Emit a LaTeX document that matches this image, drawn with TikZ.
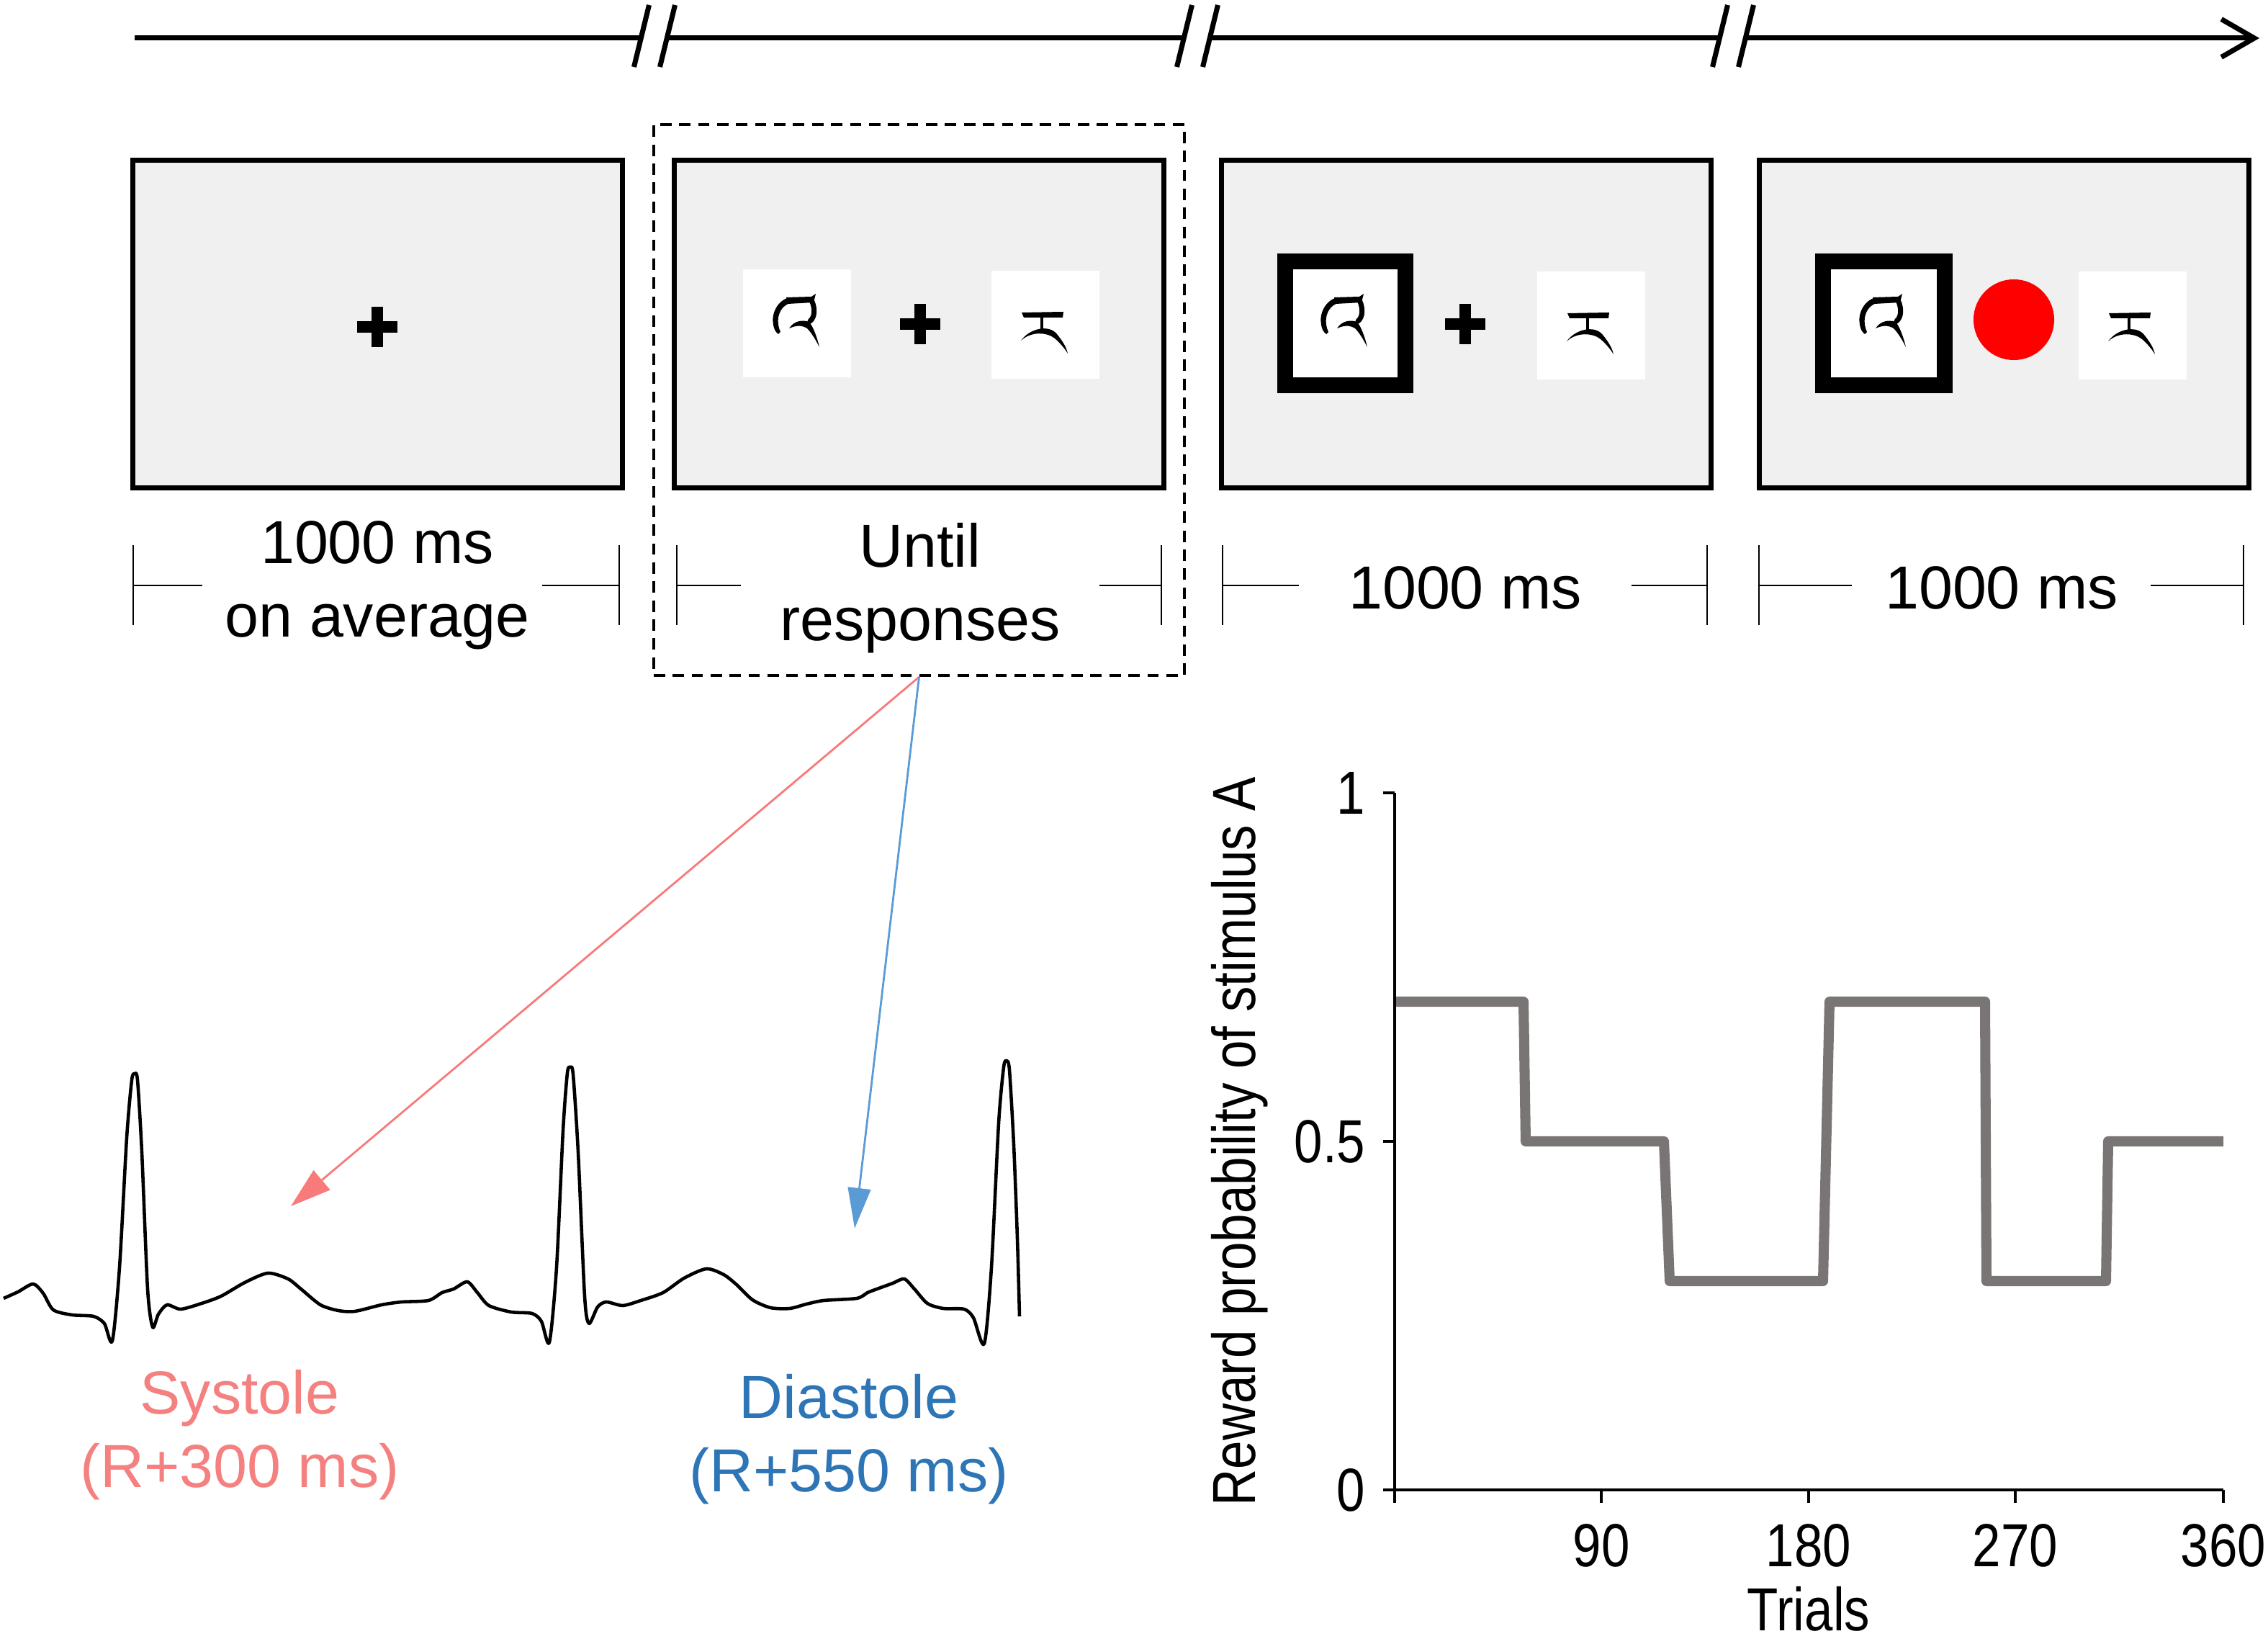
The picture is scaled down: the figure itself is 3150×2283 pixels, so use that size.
\documentclass[tikz,border=0pt]{standalone}
\usepackage{fontspec}
\setmainfont{Liberation Sans}
\newfontfamily\narrowfont[FakeStretch=0.84]{Liberation Sans}
\usetikzlibrary{arrows.meta}
\definecolor{screenfill}{RGB}{240,240,240}
\definecolor{sysred}{RGB}{248,122,122}
\definecolor{systxt}{RGB}{244,128,128}
\definecolor{diablue}{RGB}{91,155,213}
\definecolor{diatxt}{RGB}{46,117,182}
\definecolor{stepgray}{RGB}{122,117,117}
\tikzset{
  screen/.style={draw=black, line width=2pt, fill=screenfill, minimum width=6.8cm, minimum height=4.54cm, inner sep=0pt},
  dashbox/.style={draw=black, dash pattern=on 4.5pt off 3pt, line width=1.1pt, minimum width=7.37cm, minimum height=7.65cm, inner sep=0pt},
  tline/.style={line width=2pt},
  durline/.style={line width=0.7pt},
  durtext/.style={align=center, inner sep=0pt, font=\fontsize{24}{29}\selectfont},
  redarrow/.style={draw=sysred, line width=0.8pt, -{Triangle[length=16pt,width=10pt]}},
  bluearrow/.style={draw=diablue, line width=0.8pt, -{Triangle[length=16pt,width=9pt]}},
  ecg/.style={line width=1.3pt, line join=round},
  axisline/.style={line width=1.1pt},
  stepline/.style={draw=stepgray, line width=4pt, line join=round},
  plotlab/.style={inner sep=0pt, font=\narrowfont\fontsize{24}{29}\selectfont},
  whitesq/.style={fill=white, draw=none, minimum width=1.5cm, minimum height=1.5cm, inner sep=0pt},
  fixcross/.pic={\fill (-28,-8) rectangle (28,8); \fill (-8,-28) rectangle (8,28);},
  tibA/.pic={
    % top bar
    \fill (-15,-36) -- (20,-37) -- (26,-41) -- (23,-29) -- (-13,-27) -- cycle;
    % left bowl
    \fill (-11,-36) .. controls (-28,-31) and (-36,-13) .. (-33,2) .. controls (-32,8) and (-30,12) .. (-26,15)
          -- (-23,12) .. controls (-26,6) and (-27,-2) .. (-26,-8) .. controls (-24,-19) and (-18,-25) .. (-10,-28) -- cycle;
    % right descent
    \draw[line width=2pt, line cap=round] (21,-30) .. controls (25,-20) and (25,-9) .. (18,-3);
    % inner stroke with tail
    \fill (-11,7) .. controls (-4,-4) and (8,-5) .. (17,-2) .. controls (23,6) and (28,20) .. (31,33)
          .. controls (26,23) and (20,13) .. (14,7) .. controls (6,2) and (-2,3) .. (-11,7) -- cycle;
  },
  tibB/.pic={
    % top bar
    \fill (-33,-17) -- (25,-18) -- (24,-10) -- (-30,-10) -- cycle;
    % stem
    \fill (-7,-11) rectangle (-3,7);
    % sweeping arc
    \fill (-34,22) .. controls (-22,5) and (5,-1) .. (16,13) .. controls (24,23) and (29,31) .. (31,40)
          .. controls (26,32) and (20,25) .. (13,19) .. controls (2,10) and (-20,9) .. (-34,22) -- cycle;
  }
}
\begin{document}
\begin{tikzpicture}[x=0.01cm, y=-0.01cm]
\useasboundingbox (0,0) rectangle (3150,2283);

% ---------- timeline ----------
\coordinate (t0) at (187,53);
\coordinate (b1l) at (891,53);  \coordinate (b1r) at (927,53);
\coordinate (b2l) at (1645,53); \coordinate (b2r) at (1681,53);
\coordinate (b3l) at (2389,53); \coordinate (b3r) at (2425,53);
\coordinate (tend) at (3138,53);
\draw[tline] (t0) -- (b1l);
\draw[tline] (b1r) -- (b2l);
\draw[tline] (b2r) -- (b3l);
\draw[tline, -{Straight Barb[length=13pt,width=15pt]}] (b3r) -- (tend);
\foreach \c in {b1l,b1r,b2l,b2r,b3l,b3r}{
  \draw[tline] ([xshift=-0.105cm,yshift=-0.4cm]\c) -- ([xshift=0.105cm,yshift=0.46cm]\c);
}

% ---------- screens ----------
\node[dashbox] (dbox) at (1276.5,555.5) {};
\node[screen] (s1) at (524.5,450) {};
\node[screen] (s2) at (1276.5,450) {};
\node[screen] (s3) at (2036.5,450) {};
\node[screen] (s4) at (2783.5,450) {};

% screen 1
\pic at (524,454) {fixcross};
% screen 2
\node[whitesq] (s2a) at (1107,449) {};
\node[whitesq] (s2b) at (1452,451) {};
\pic at (s2a) {tibA};
\pic at (s2b) {tibB};
\pic at (1278,450) {fixcross};
% screen 3
\fill (1774,352) rectangle (1963,546);
\fill[white] (1796,374) rectangle (1941,524);
\coordinate (s3a) at (1868,449);
\pic at (s3a) {tibA};
\pic at (2035,450) {fixcross};
\node[whitesq] (s3b) at (2210,452) {};
\pic at (s3b) {tibB};
% screen 4
\fill (2521,352) rectangle (2712,546);
\fill[white] (2543,374) rectangle (2690,524);
\coordinate (s4a) at (2616,449);
\pic at (s4a) {tibA};
\node[circle, fill=red, minimum size=1.12cm, inner sep=0pt] (dot) at (2797,444) {};
\node[whitesq] (s4b) at (2962,452) {};
\pic at (s4b) {tibB};

% ---------- durations ----------
\node[durtext] (d1) at (524,813) {1000 ms\\on average};
\node[durtext] (d2) at (1278,817) {Until\\responses};
\node[durtext] (d3) at (2035,816) {1000 ms};
\node[durtext] (d4) at (2780,816) {1000 ms};
\foreach \l/\a/\b/\r in {185/281/753/860, 940/1029/1527/1613, 1698/1804/2266/2371, 2443/2572/2987/3116}{
  \draw[durline] (\l,757) -- (\l,868);
  \draw[durline] (\r,757) -- (\r,868);
  \draw[durline] (\l,813) -- (\a,813);
  \draw[durline] (\b,813) -- (\r,813);
}

% ---------- ECG ----------
\draw[ecg] plot[smooth, tension=0.45] coordinates {
(5,1803) (25,1794) (46,1783) (60,1796) (74,1819) (100,1826) (130,1828) (145,1838) (156,1862)
(166,1760) (176,1580) (183,1500) (187,1491) (191,1500) (197,1600) (205,1790) (212,1843)
(220,1825) (232,1812) (251,1818) (280,1810) (307,1800) (340,1781) (372,1768) (400,1776)
(418,1790) (445,1812) (470,1820) (493,1821) (530,1812) (558,1808) (595,1806) (614,1795)
(630,1790) (649,1780) (663,1795) (679,1813) (710,1822) (739,1824) (752,1835) (763,1864)
(773,1760) (782,1570) (788,1490) (792,1482) (796,1492) (803,1600) (812,1800) (818,1838)
(830,1815) (842,1808) (865,1813) (890,1806) (921,1795) (950,1775) (981,1762) (1005,1770)
(1023,1784) (1045,1805) (1070,1816) (1097,1817) (1120,1811) (1144,1806) (1190,1803)
(1205,1795) (1218,1790) (1240,1782) (1256,1776) (1270,1790) (1288,1810) (1310,1817)
(1339,1818) (1352,1830) (1367,1866) (1377,1760) (1387,1560) (1394,1482) (1398,1473)
(1402,1486) (1408,1590) (1413,1720) (1416,1828)};

% ---------- arrows ----------
\coordinate (systip) at (404,1675);
\coordinate (diatip) at (1187,1706);
\draw[redarrow] (dbox.south) -- (systip);
\draw[bluearrow] (dbox.south) -- (diatip);
\node[durtext, text=systxt] (sys) at (333,1993) {Systole\\(R+300 ms)};
\node[durtext, text=diatxt] (dia) at (1179,1999) {Diastole\\(R+550 ms)};

% ---------- plot ----------
\coordinate (O) at (1937,2069);
\coordinate (ytop) at (1937,1101);
\coordinate (xend) at (3088,2069);
\draw[axisline] (ytop) -- (O) -- (xend);
\foreach \y in {1101,1585,2069}{ \draw[axisline] (1921,\y) -- (1937,\y); }
\foreach \x in {1937,2224,2512,2799,3088}{ \draw[axisline] (\x,2069) -- (\x,2087); }
\node[plotlab, anchor=east] (y1) at (1897,1101) {1};
\node[plotlab, anchor=east] (y05) at (1897,1585) {0.5};
\node[plotlab, anchor=east] (y0) at (1897,2069) {0};
\node[plotlab] (x90) at (2224,2146) {90};
\node[plotlab] (x180) at (2512,2146) {180};
\node[plotlab] (x270) at (2799,2146) {270};
\node[plotlab] (x360) at (3088,2146) {360};
\node[plotlab, anchor=base] (xl) at (2512,2264) {Trials};
\node[plotlab, rotate=90] (yl) at (1722,1585) {Reward probability of stimulus A};
\draw[stepline] (1939,1391) -- (2116,1391) -- (2119,1585) -- (2311,1585) -- (2319,1779)
  -- (2532,1779) -- (2541,1391) -- (2757,1391) -- (2759,1779) -- (2925,1779)
  -- (2928,1585) -- (3088,1585);
\end{tikzpicture}
\end{document}
